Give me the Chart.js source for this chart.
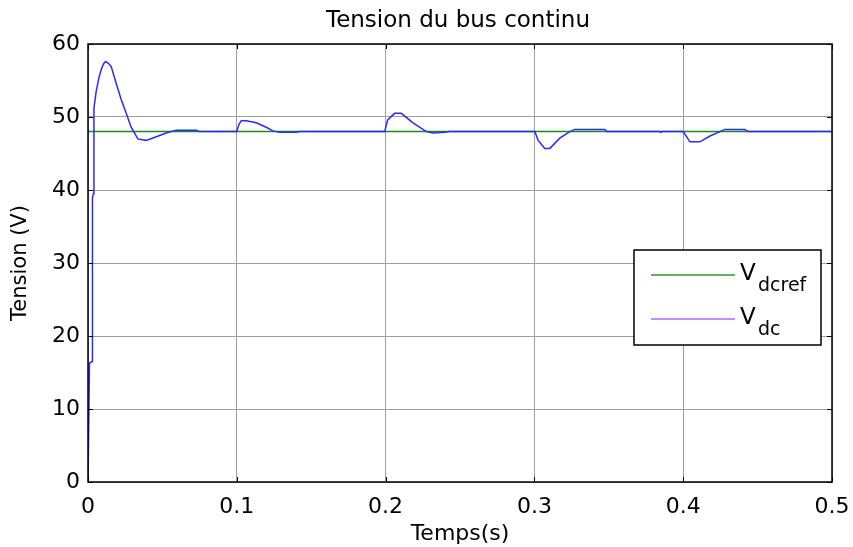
<!DOCTYPE html>
<html>
<head>
<meta charset="utf-8">
<script src="https://cdn.jsdelivr.net/npm/chart.js@4.4.1/dist/chart.umd.min.js"></script>
<style>
html,body{margin:0;padding:0;background:#fff;}
#wrap{width:853px;height:547px;position:relative;}
</style>
</head>
<body>
<div id="wrap"><canvas id="c" width="853" height="547"></canvas></div>
<script>
// ---- data ----
const chartTitle = "Tension du bus continu";
const xTitle = "Temps(s)";
const yTitle = "Tension (V)";
const xTicks = [0, 0.1, 0.2, 0.3, 0.4, 0.5];
const yTicks = [0, 10, 20, 30, 40, 50, 60];

const refTime = [0, 0.5];
const refValues = [48, 48];

const vdcTime = [
  0, 0.0006, 0.001, 0.0028, 0.003, 0.0036, 0.004, 0.0055, 0.0075, 0.0089, 0.0105, 0.0118, 0.0135, 0.0156, 0.019, 0.0223, 0.0257, 0.029, 0.0335, 0.0391, 0.0459, 0.0526, 0.0593, 0.0728, 0.075,
  0.0999, 0.1015, 0.103, 0.1064, 0.1131, 0.1198, 0.1243, 0.1288, 0.14, 0.1422,
  0.1994, 0.2014, 0.2061, 0.2106, 0.2184, 0.2274, 0.2319, 0.2397, 0.243,
  0.3003, 0.3025, 0.307, 0.3104, 0.3171, 0.3238, 0.3272, 0.3473, 0.3487,
  0.384, 0.385, 0.386,
  0.4, 0.4045, 0.4112, 0.418, 0.4247, 0.428, 0.4415, 0.4435, 0.5
];
const vdcValues = [
  0, 0, 16.3, 16.5, 38.9, 39.5, 51.2, 53.5, 55.5, 56.5, 57.3, 57.6, 57.4, 56.9, 54.6, 52.4, 50.5, 48.6, 47.0, 46.8, 47.3, 47.8, 48.2, 48.2, 48.0,
  48.0, 49.0, 49.5, 49.5, 49.2, 48.6, 48.1, 47.9, 47.9, 48.0,
  48.0, 49.6, 50.5, 50.5, 49.2, 48.0, 47.8, 47.9, 48.0,
  48.0, 46.8, 45.7, 45.7, 47.1, 48.0, 48.3, 48.3, 48.0,
  48.0, 47.9, 48.0,
  48.0, 46.6, 46.6, 47.4, 48.0, 48.3, 48.3, 48.0, 48.0
];

const legendEntries = [
  {main: "V", sub: "dcref", color: "#2e9a2e"},
  {main: "V", sub: "dc", color: "#a66bff"}
];

const FONT = "'DejaVu Sans', sans-serif";

const zip = (xs, ys) => xs.map((x, i) => ({x: x, y: ys[i]}));

const matlabPlugin = {
  id: 'matlab',
  afterDatasetsDraw(chart) {
    const {ctx, chartArea: a, scales} = chart;
    ctx.save();
    // tick marks inside on all sides
    ctx.strokeStyle = '#000';
    ctx.lineWidth = 1;
    const tl = 5;
    xTicks.forEach(v => {
      const px = Math.round(scales.x.getPixelForValue(v)) + 0.5;
      ctx.beginPath();
      ctx.moveTo(px, a.bottom); ctx.lineTo(px, a.bottom - tl);
      ctx.moveTo(px, a.top); ctx.lineTo(px, a.top + tl);
      ctx.stroke();
    });
    yTicks.forEach(v => {
      const py = Math.round(scales.y.getPixelForValue(v)) + 0.5;
      ctx.beginPath();
      ctx.moveTo(a.left, py); ctx.lineTo(a.left + tl, py);
      ctx.moveTo(a.right, py); ctx.lineTo(a.right - tl, py);
      ctx.stroke();
    });
    // frame
    ctx.lineWidth = 1.5;
    ctx.strokeRect(a.left, a.top, a.right - a.left, a.bottom - a.top);

    // title
    ctx.fillStyle = '#000';
    ctx.font = '23px ' + FONT;
    ctx.textAlign = 'center';
    ctx.textBaseline = 'alphabetic';
    ctx.fillText(chartTitle, 458, 27);

    // legend box
    const bx = 634, by = 250, bw = 187, bh = 95;
    ctx.fillStyle = '#fff';
    ctx.fillRect(bx, by, bw, bh);
    ctx.lineWidth = 1.5;
    ctx.strokeStyle = '#000';
    ctx.strokeRect(bx, by, bw, bh);
    const rows = [{ly: 275, base: 280, sbase: 291}, {ly: 319, base: 324, sbase: 335}];
    legendEntries.forEach((e, i) => {
      const r = rows[i];
      ctx.strokeStyle = e.color;
      ctx.lineWidth = 1.5;
      ctx.beginPath();
      ctx.moveTo(651, r.ly); ctx.lineTo(735, r.ly);
      ctx.stroke();
      ctx.fillStyle = '#000';
      ctx.textAlign = 'left';
      ctx.textBaseline = 'alphabetic';
      ctx.font = '23px ' + FONT;
      ctx.fillText(e.main, 740, r.base);
      ctx.font = '19px ' + FONT;
      ctx.fillText(e.sub, 758, r.sbase);
    });
    ctx.restore();
  }
};

new Chart(document.getElementById('c'), {
  type: 'line',
  data: {
    datasets: [
      {
        label: 'Vdcref',
        data: zip(refTime, refValues),
        borderColor: '#1a8a1a',
        borderWidth: 1.5,
        pointRadius: 0,
        tension: 0,
        order: 1
      },
      {
        label: 'Vdc',
        data: zip(vdcTime, vdcValues),
        borderColor: '#2a2aff',
        borderWidth: 1.5,
        pointRadius: 0,
        tension: 0,
        order: 0
      }
    ]
  },
  options: {
    responsive: false,
    animation: false,
    events: [],
    layout: {padding: {left: 0, right: 21, top: 44, bottom: 0}},
    plugins: {legend: {display: false}, title: {display: false}, tooltip: {enabled: false}},
    scales: {
      x: {
        type: 'linear',
        min: 0, max: 0.5,
        afterBuildTicks: s => { s.ticks = xTicks.map(v => ({value: v})); },
        afterFit: s => { s.height = 65; s.paddingLeft = 0; s.paddingRight = 0; },
        ticks: {
          color: '#000', padding: 12, maxRotation: 0,
          font: {family: FONT, size: 22},
          callback: v => String(Math.round(v * 10) / 10)
        },
        grid: {color: '#a0a0a0', lineWidth: 1, drawTicks: false},
        border: {display: false},
        title: {display: true, text: xTitle, color: '#000', font: {family: FONT, size: 22}, padding: {top: 0, bottom: 0}}
      },
      y: {
        type: 'linear',
        min: 0, max: 60,
        afterBuildTicks: s => { s.ticks = yTicks.map(v => ({value: v})); },
        afterFit: s => { s.width = 88; s.paddingTop = 0; s.paddingBottom = 0; },
        ticks: {
          color: '#000', padding: 8,
          font: {family: FONT, size: 22}
        },
        grid: {color: '#a0a0a0', lineWidth: 1, drawTicks: false},
        border: {display: false},
        title: {display: true, text: yTitle, color: '#000', font: {family: FONT, size: 21}, padding: {top: 8, bottom: 0}}
      }
    }
  },
  plugins: [matlabPlugin]
});
</script>
</body>
</html>
